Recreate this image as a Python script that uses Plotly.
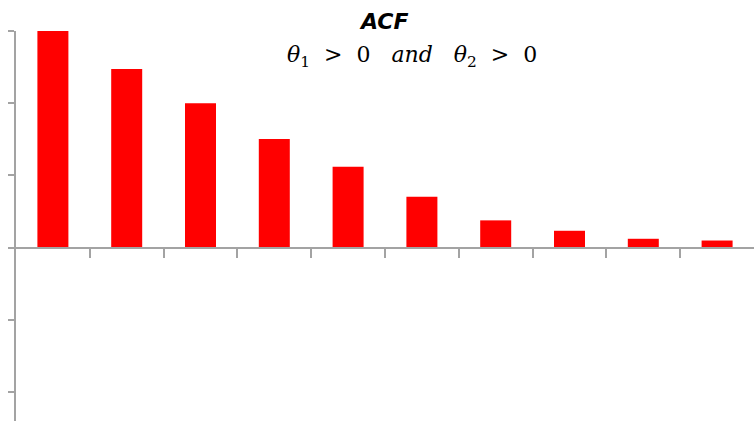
import plotly.graph_objects as go

# Data
lags = [1, 2, 3, 4, 5, 6, 7, 8, 9, 10]
acf = [1.0, 0.825, 0.667, 0.502, 0.373, 0.235, 0.126, 0.078, 0.041, 0.033]
tick_positions = [l + 0.5 for l in lags[:-1]]
y_min, y_max = -0.8, 1.0
y_ticks = [-2/3, -1/3, 0, 1/3, 2/3, 1.0]

axis_color = "#a3a3a3"

fig = go.Figure()
fig.add_trace(go.Bar(
    x=lags, y=acf,
    marker=dict(color="#ff0000", line=dict(width=0)),
    width=0.42,
    showlegend=False,
    hoverinfo="x+y",
))

zero_pos = (0 - y_min) / (y_max - y_min)

fig.update_layout(
    width=754, height=421,
    margin=dict(l=16, r=0, t=31, b=0),
    paper_bgcolor="white",
    plot_bgcolor="white",
    xaxis=dict(
        range=[0.5, 10.5],
        anchor="free",
        position=zero_pos,
        showline=True, linecolor=axis_color, linewidth=2,
        ticks="outside", ticklen=9, tickwidth=2, tickcolor=axis_color,
        tickmode="array", tickvals=tick_positions,
        showticklabels=False, showgrid=False, zeroline=False,
    ),
    yaxis=dict(
        range=[y_min, y_max],
        showline=True, linecolor=axis_color, linewidth=2,
        ticks="outside", ticklen=6, tickwidth=2, tickcolor=axis_color,
        tickmode="array", tickvals=y_ticks,
        showticklabels=False, showgrid=False, zeroline=False,
    ),
    annotations=[
        dict(
            text="<b><i>ACF</i></b>",
            xref="paper", yref="paper",
            x=0.498, y=1.0, yshift=24,
            xanchor="center", yanchor="top",
            showarrow=False,
            font=dict(family="DejaVu Sans", size=22, color="black"),
        ),
        dict(
            text="<i>θ</i><sub>1</sub>&nbsp; &gt; &nbsp;0 &nbsp;&nbsp;<i>and</i>&nbsp;&nbsp; "
                 "<i>θ</i><sub>2</sub>&nbsp; &gt; &nbsp;0",
            xref="paper", yref="paper",
            x=0.537, y=1.0, yshift=-9,
            xanchor="center", yanchor="top",
            showarrow=False,
            font=dict(family="DejaVu Serif", size=22, color="black"),
        ),
    ],
)

fig.write_html("out.html")
